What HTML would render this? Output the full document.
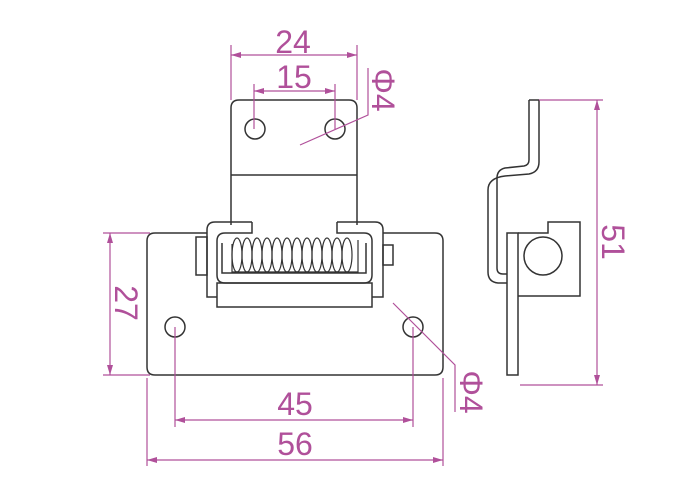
<!DOCTYPE html>
<html><head><meta charset="utf-8"><style>
html,body{margin:0;padding:0;background:#fff;}
svg{display:block;}
text{font-family:"Liberation Sans",sans-serif;fill:#b0509a;font-size:32px;}
</style></head><body>
<svg width="700" height="500" viewBox="0 0 700 500" xmlns="http://www.w3.org/2000/svg">
<defs>
<marker id="a" viewBox="0 0 10 6" refX="10" refY="3" markerWidth="10" markerHeight="6" orient="auto-start-reverse" markerUnits="userSpaceOnUse"><path d="M0,0L10,3L0,6z" fill="#b0509a"/></marker>
</defs>
<g fill="none" stroke="#333" stroke-width="1.5">
<path d="M231,225 V108 Q231,100 239,100 H349 Q357,100 357,108 V225"/>
<line x1="231" y1="175" x2="357" y2="175"/>
<circle cx="255" cy="129" r="10"/>
<circle cx="335" cy="129" r="10"/>
<path d="M207,233 H155 Q147,233 147,241 V367 Q147,375 155,375 H435 Q443,375 443,367 V241 Q443,233 435,233 H383"/>
<circle cx="175" cy="327" r="10"/>
<circle cx="413" cy="327" r="10"/>
<path d="M252,222 H215 Q207,222 207,230 V297 H217"/>
<path d="M337,222 H375 Q383,222 383,230 V297 H372"/>
<path d="M252,222 V233 H225 Q217,233 217,241 V275 Q217,283 225,283 H364 Q372,283 372,275 V241 Q372,233 364,233 H337 V222"/>
<rect x="217" y="283" width="155" height="24"/>
<rect x="196" y="237" width="11" height="38"/>
<rect x="383" y="245" width="10" height="20"/>
<path d="M222,243 V273 H366 V243"/>
</g>
<g fill="none" stroke="#333" stroke-width="1.2">
<ellipse cx="237" cy="255" rx="5" ry="17"/>
<ellipse cx="247" cy="255" rx="5" ry="17"/>
<ellipse cx="257" cy="255" rx="5" ry="17"/>
<ellipse cx="267" cy="255" rx="5" ry="17"/>
<ellipse cx="277" cy="255" rx="5" ry="17"/>
<ellipse cx="287" cy="255" rx="5" ry="17"/>
<ellipse cx="297" cy="255" rx="5" ry="17"/>
<ellipse cx="307" cy="255" rx="5" ry="17"/>
<ellipse cx="317" cy="255" rx="5" ry="17"/>
<ellipse cx="327" cy="255" rx="5" ry="17"/>
<ellipse cx="337" cy="255" rx="5" ry="17"/>
<ellipse cx="347" cy="255" rx="5" ry="17"/>
<path d="M232,244 V272 H358 V240"/>
</g>
<g fill="none" stroke="#333" stroke-width="1.5">
<path d="M529,100 V160 Q529,165 524,166 L505,168 Q497,170 497,178 V268 Q497,274 503,274 H507"/>
<path d="M539,100 V162 Q539,172 529,174 L505,176 Q488,178 488,190 V272 Q488,282 498,283 H507"/>
<line x1="529" y1="100" x2="539" y2="100"/>
<rect x="507" y="233" width="11" height="142"/>
<path d="M518,233 H548 V222 H580 V296 H518"/>
<circle cx="543" cy="256" r="19"/>
</g>
<g fill="none" stroke="#b0509a" stroke-width="1.2">
<line x1="231" y1="45" x2="231" y2="100"/><line x1="357" y1="45" x2="357" y2="100"/>
<line x1="231" y1="55" x2="357" y2="55" marker-start="url(#a)" marker-end="url(#a)"/>
<line x1="254" y1="84" x2="254" y2="129"/><line x1="335" y1="84" x2="335" y2="129"/>
<line x1="254" y1="91" x2="335" y2="91" marker-start="url(#a)" marker-end="url(#a)"/>
<path d="M300,145 L368,115 V68"/>
<line x1="103" y1="233" x2="150" y2="233"/><line x1="103" y1="375" x2="150" y2="375"/>
<line x1="110" y1="233" x2="110" y2="375" marker-start="url(#a)" marker-end="url(#a)"/>
<line x1="147" y1="378" x2="147" y2="466"/><line x1="443" y1="378" x2="443" y2="466"/>
<line x1="147" y1="460" x2="443" y2="460" marker-start="url(#a)" marker-end="url(#a)"/>
<line x1="175" y1="327" x2="175" y2="427"/><line x1="413" y1="327" x2="413" y2="427"/>
<line x1="175" y1="420" x2="413" y2="420" marker-start="url(#a)" marker-end="url(#a)"/>
<path d="M393,303 L455,365 V412"/>
<line x1="539" y1="100" x2="603" y2="100"/><line x1="520" y1="385" x2="603" y2="385"/>
<line x1="597" y1="100" x2="597" y2="385" marker-start="url(#a)" marker-end="url(#a)"/>
</g>
<text x="293" y="53" text-anchor="middle">24</text>
<text x="294" y="88" text-anchor="middle">15</text>
<text x="295" y="415" text-anchor="middle">45</text>
<text x="295" y="455" text-anchor="middle">56</text>
<text transform="translate(115,303) rotate(90)" text-anchor="middle">27</text>
<text transform="translate(602,242) rotate(90)" text-anchor="middle">51</text>
<text transform="translate(372,90) rotate(90)" text-anchor="middle">Φ4</text>
<text transform="translate(460,392) rotate(90)" text-anchor="middle">Φ4</text>
</svg>
</body></html>
